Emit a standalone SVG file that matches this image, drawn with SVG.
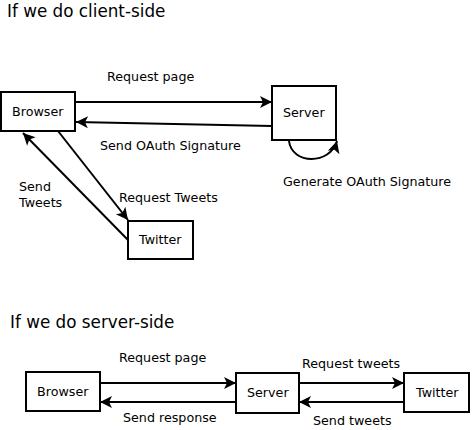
<svg xmlns="http://www.w3.org/2000/svg" width="472" height="430" viewBox="0 0 472 430">
<style>
.box{fill:#fff;stroke:#000;stroke-width:2}
.t{font-family:"DejaVu Sans",sans-serif;font-size:12.7px;fill:#000}
.title{font-family:"DejaVu Sans",sans-serif;font-size:16.8px;fill:#000}
.c{fill:none;stroke:#000;stroke-width:2}
</style>
<defs>
<marker id="ah" markerUnits="userSpaceOnUse" markerWidth="14" markerHeight="12" refX="12" refY="6" orient="auto" overflow="visible">
<path d="M0,0 L12,6 L0,12 L3,6 Z" fill="#000"/>
</marker>
</defs>
<rect width="472" height="430" fill="#fff"/>
<text class="title" x="7" y="17">If we do client-side</text>
<text class="title" x="10" y="328">If we do server-side</text>
<g id="connectors">
<line class="c" x1="75" y1="102" x2="272" y2="102" marker-end="url(#ah)"/>
<line class="c" x1="272" y1="126" x2="76" y2="122" marker-end="url(#ah)"/>
<line class="c" x1="58" y1="131" x2="128" y2="220" marker-end="url(#ah)"/>
<line class="c" x1="128" y1="240" x2="23" y2="133" marker-end="url(#ah)"/>
<path class="c" d="M289,141 C292,165 330,165 337,141" marker-end="url(#ah)"/>
<line class="c" x1="100" y1="383" x2="236" y2="383" marker-end="url(#ah)"/>
<line class="c" x1="236" y1="402" x2="100" y2="402" marker-end="url(#ah)"/>
<line class="c" x1="299" y1="383" x2="404" y2="383" marker-end="url(#ah)"/>
<line class="c" x1="404" y1="402" x2="299" y2="402" marker-end="url(#ah)"/>
</g>
<g id="labels">
<text class="t" x="107" y="81">Request page</text>
<text class="t" x="100" y="150">Send OAuth Signature</text>
<text class="t" x="19" y="191">Send</text>
<text class="t" x="19" y="207">Tweets</text>
<text class="t" x="119" y="202">Request Tweets</text>
<text class="t" x="283" y="186">Generate OAuth Signature</text>
<text class="t" x="119" y="362">Request page</text>
<text class="t" x="123" y="422">Send response</text>
<text class="t" x="302" y="368">Request tweets</text>
<text class="t" x="313" y="425">Send tweets</text>
</g>
<g id="browser1"><rect class="box" x="1" y="92" width="74" height="39"/><text class="t" x="12" y="116">Browser</text></g>
<g id="server1"><rect class="box" x="272" y="86" width="64" height="54"/><text class="t" x="283" y="117">Server</text></g>
<g id="twitter1"><rect class="box" x="128" y="221" width="65" height="38"/><text class="t" x="139" y="244">Twitter</text></g>
<g id="browser2"><rect class="box" x="26" y="372" width="74" height="39"/><text class="t" x="37" y="396">Browser</text></g>
<g id="server2"><rect class="box" x="236" y="373" width="63" height="40"/><text class="t" x="247" y="397">Server</text></g>
<g id="twitter2"><rect class="box" x="404" y="373" width="65" height="39"/><text class="t" x="416" y="397">Twitter</text></g>
</svg>
